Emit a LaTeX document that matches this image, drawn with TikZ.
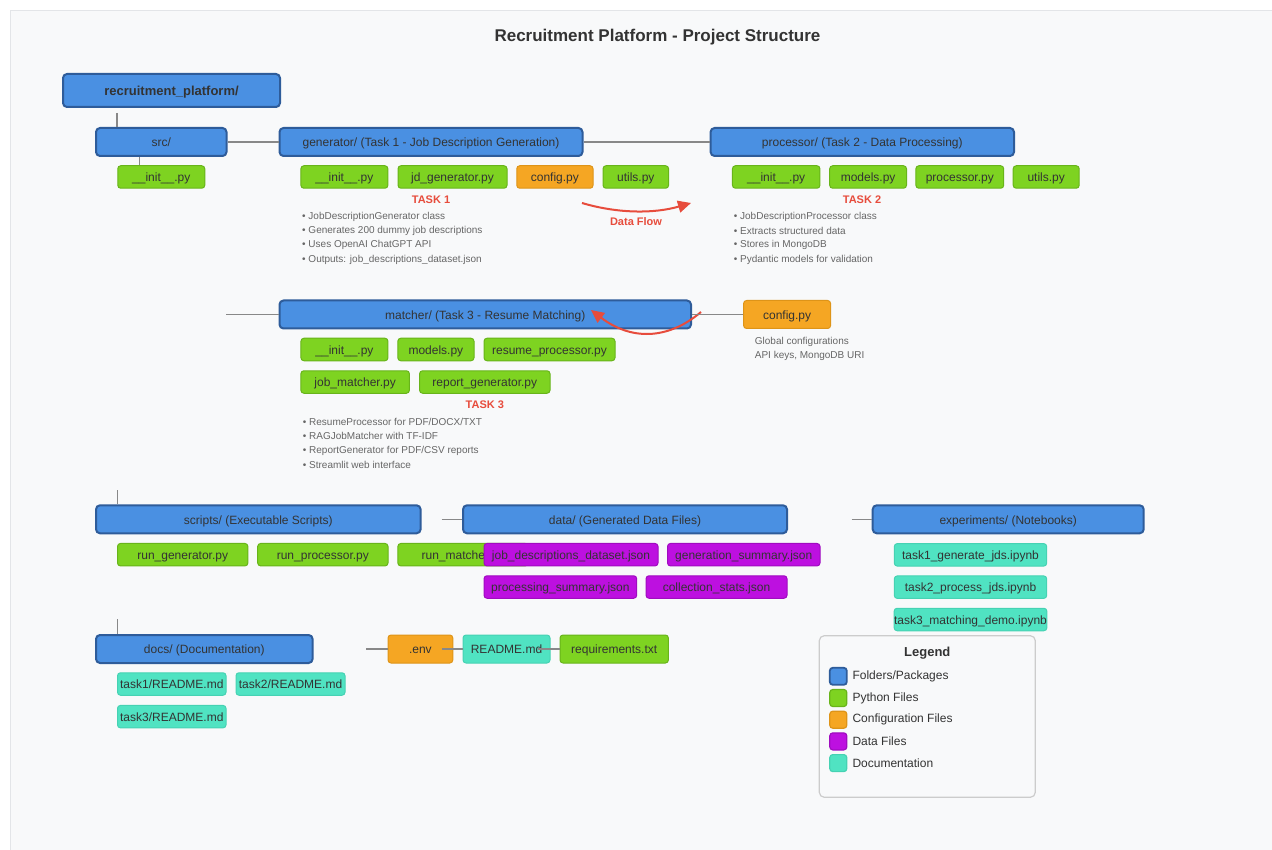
\documentclass[tikz,border=0pt]{standalone}
\usepackage{fontspec}
\setmainfont{Liberation Sans}
\usetikzlibrary{calc,arrows.meta}

\definecolor{folderfill}{HTML}{4A90E2}
\definecolor{folderdraw}{HTML}{2E5C9A}
\definecolor{pyfill}{HTML}{7ED321}
\definecolor{pydraw}{HTML}{68B41A}
\definecolor{cfgfill}{HTML}{F5A623}
\definecolor{cfgdraw}{HTML}{DE9418}
\definecolor{datafill}{HTML}{BD10E0}
\definecolor{datadraw}{HTML}{A00CC0}
\definecolor{docfill}{HTML}{50E3C2}
\definecolor{docdraw}{HTML}{46D2B3}
\definecolor{panel}{HTML}{F8F9FA}
\definecolor{panelline}{HTML}{E3E5E8}
\definecolor{ink}{HTML}{333333}
\definecolor{note}{HTML}{666666}
\definecolor{accent}{HTML}{E74C3C}
\definecolor{wire}{HTML}{888888}
\definecolor{legline}{HTML}{CCCCCC}

\newcommand{\setpx}[1]{\fontsize{#1}{#1}\selectfont}

\tikzset{
  box/.style={rectangle, inner sep=0pt, text=ink, font=\setpx{12},
              text height=9.6pt, text depth=0pt},
  folder/.style={box, fill=folderfill, draw=folderdraw, line width=2pt,
                 rounded corners=4pt, minimum height=28pt},
  filebox/.style={box, line width=1pt, rounded corners=3pt, minimum height=22.5pt},
  pyfile/.style={filebox, fill=pyfill, draw=pydraw},
  cfgfile/.style={filebox, fill=cfgfill, draw=cfgdraw},
  datafile/.style={filebox, fill=datafill, draw=datadraw},
  docfile/.style={filebox, fill=docfill, draw=docdraw},
  tasklabel/.style={text=accent, font=\setpx{11}\bfseries, inner sep=0pt},
  bullet/.style={text=note, font=\setpx{10}, inner sep=0pt, anchor=west},
  conn/.style={draw=wire, line width=1.5pt},
  flow/.style={draw=accent, line width=2pt, -{Triangle[length=13pt,width=12pt]}},
  legsw/.style={rectangle, minimum size=17pt, inner sep=0pt, rounded corners=3pt, line width=1.2pt},
  legtext/.style={text=ink, font=\setpx{12}, inner sep=0pt, anchor=west},
}

\begin{document}
\begin{tikzpicture}[x=1pt, y=-1pt]
\useasboundingbox (0,0) rectangle (1272,850);
% page panel
\fill[panel] (10,10) rectangle (1300,880);
\draw[panelline, line width=0.8pt] (10,880) -- (10,10) -- (1300,10);

% title
\node[text=ink, font=\setpx{17}\bfseries, inner sep=0pt] (title) at (657.5,37.5) {Recruitment Platform - Project Structure};

% root and first-level packages
\node[folder, minimum width=217pt, minimum height=33pt, font=\setpx{13}\bfseries,
      text height=10.5pt] (root) at (171.5,90.5) {recruitment\_platform/};
\node[folder, minimum width=130.5pt] (src) at (161.25,142) {src/};
\node[folder, minimum width=303pt] (gen) at (431,142) {generator/ (Task 1 - Job Description Generation)};
\node[folder, minimum width=303.4pt] (proc) at (862.3,142) {processor/ (Task 2 - Data Processing)};

% src files
\node[pyfile, minimum width=87pt] (srcinit) at (161.25,177) {\_\_init\_\_.py};

% generator files
\node[pyfile, minimum width=87pt] (geninit) at (344.4,177) {\_\_init\_\_.py};
\node[pyfile, minimum width=109pt] (jdgen) at (452.5,177) {jd\_generator.py};
\node[cfgfile, minimum width=76.3pt] (gencfg) at (554.9,177) {config.py};
\node[pyfile, minimum width=65.6pt] (genutils) at (635.8,177) {utils.py};

\node[tasklabel] (task1) at (431,200) {TASK 1};
\node[bullet] (g1) at (302,216.7) {• JobDescriptionGenerator class};
\node[bullet] (g2) at (302,230.7) {• Generates 200 dummy job descriptions};
\node[bullet] (g3) at (302,244.7) {• Uses OpenAI ChatGPT API};
\node[bullet] (g4) at (302,259.7) {• Outputs: job\_descriptions\_dataset.json};

% processor files
\node[pyfile, minimum width=87.5pt] (procinit) at (776.2,177) {\_\_init\_\_.py};
\node[pyfile, minimum width=76.8pt] (procmodels) at (868.1,177) {models.py};
\node[pyfile, minimum width=87.8pt] (procproc) at (959.8,177) {processor.py};
\node[pyfile, minimum width=66pt] (procutils) at (1046.2,177) {utils.py};

\node[tasklabel] (task2) at (862,200) {TASK 2};
\node[bullet] (p1) at (733.7,216.7) {• JobDescriptionProcessor class};
\node[bullet] (p2) at (733.7,230.7) {• Extracts structured data};
\node[bullet] (p3) at (733.7,244.7) {• Stores in MongoDB};
\node[bullet] (p4) at (733.7,259.7) {• Pydantic models for validation};

% data flow between tasks 1 and 2
\coordinate (fa) at (582,203);
\coordinate (fb) at (691,203);
\draw[flow] (fa) .. controls (618,213.7) and (654.3,213.7) .. (fb);
\node[tasklabel] (flowlabel) at (636,221.7) {Data Flow};

% matcher package
\node[folder, minimum width=411.5pt] (matcher) at (485.25,314.5) {matcher/ (Task 3 - Resume Matching)};
\node[cfgfile, minimum width=87pt, minimum height=28pt] (mcfg) at (787.1,314.5) {config.py};
\node[bullet] (c1) at (754.7,341.7) {Global configurations};
\node[bullet] (c2) at (754.7,356) {API keys, MongoDB URI};

\node[pyfile, minimum width=87pt] (minit) at (344.45,349.5) {\_\_init\_\_.py};
\node[pyfile, minimum width=76.2pt] (mmodels) at (435.9,349.5) {models.py};
\node[pyfile, minimum width=131pt] (mresume) at (549.5,349.5) {resume\_processor.py};
\node[pyfile, minimum width=108.5pt] (mjob) at (355.15,382) {job\_matcher.py};
\node[pyfile, minimum width=130.4pt] (mreport) at (484.8,382) {report\_generator.py};

\node[tasklabel] (task3) at (484.8,405) {TASK 3};
\node[bullet] (m1) at (302.7,421.7) {• ResumeProcessor for PDF/DOCX/TXT};
\node[bullet] (m2) at (302.7,436.3) {• RAGJobMatcher with TF-IDF};
\node[bullet] (m3) at (302.7,450.7) {• ReportGenerator for PDF/CSV reports};
\node[bullet] (m4) at (302.7,464.7) {• Streamlit web interface};

% config feeding the matcher
\coordinate (fc) at (701,312);
\coordinate (fd) at (591,310);
\draw[flow] (fc) .. controls (667,340.7) and (630.3,340) .. (fd);

% second row of packages
\node[folder, minimum width=324.6pt] (scripts) at (258.3,519.3) {scripts/ (Executable Scripts)};
\node[folder, minimum width=324pt] (data) at (625,519.3) {data/ (Generated Data Files)};
\node[folder, minimum width=271pt] (exper) at (1008.2,519.3) {experiments/ (Notebooks)};

\node[pyfile, minimum width=130.4pt] (rgen) at (182.7,554.7) {run\_generator.py};
\node[pyfile, minimum width=130.3pt] (rproc) at (322.85,554.7) {run\_processor.py};
\node[pyfile, minimum width=130.3pt] (rmatch) at (463,554.7) {run\_matcher.py};

\node[datafile, minimum width=174pt] (djob) at (571,554.7) {job\_descriptions\_dataset.json};
\node[datafile, minimum width=152.5pt] (dgen) at (743.75,554.7) {generation\_summary.json};
\node[datafile, minimum width=152.7pt] (dproc) at (560.35,587) {processing\_summary.json};
\node[datafile, minimum width=141pt] (dcoll) at (716.5,587) {collection\_stats.json};

\node[docfile, minimum width=152.4pt] (e1) at (970.5,554.85) {task1\_generate\_jds.ipynb};
\node[docfile, minimum width=152.4pt] (e2) at (970.5,587.15) {task2\_process\_jds.ipynb};
\node[docfile, minimum width=152.4pt] (e3) at (970.5,619.5) {task3\_matching\_demo.ipynb};

% docs and top-level files
\node[folder, minimum width=216.6pt] (docs) at (204.3,649) {docs/ (Documentation)};
\node[cfgfile, minimum width=64.8pt, minimum height=28pt] (env) at (420.4,649) {.env};
\node[docfile, minimum width=87pt, minimum height=28pt] (readme) at (506.5,649) {README.md};
\node[pyfile, minimum width=108.4pt, minimum height=28pt] (req) at (614.2,649) {requirements.txt};

\node[docfile, minimum width=108.5pt] (t1) at (171.75,684) {task1/README.md};
\node[docfile, minimum width=109pt] (t2) at (290.5,684) {task2/README.md};
\node[docfile, minimum width=108.5pt] (t3) at (171.75,716.65) {task3/README.md};

% tree connectors
\draw[conn] ($(root.south west)+(55,5)$) -- ($(src.north west)+(22,0)$);
\coordinate (srcjoin) at ($(srcinit.north west)+(22,0)$);
\draw[conn] (srcjoin) -- (srcjoin |- src.south);
\draw[conn] (src.east) -- (gen.west);
\draw[conn] (gen.east) -- (proc.west);
\coordinate (mstub) at (226,314.5);
\draw[conn] (mstub) -- (matcher.west);
\draw[conn] (matcher.east) -- (mcfg.west);
\coordinate (sstub) at (117.5,490);
\draw[conn] (sstub) -- (sstub |- scripts.north);
\coordinate (dstub) at (441.6,519.3);
\draw[conn] (dstub) -- (data.west);
\coordinate (estub) at (851.7,519.3);
\draw[conn] (estub) -- (exper.west);
\coordinate (ostub) at (117.5,619.3);
\draw[conn] (ostub) -- (ostub |- docs.north);
\coordinate (envstub) at (366,649);
\draw[conn] (envstub) -- (env.west);
\draw[conn] ($(env.east)+(-11,0)$) -- (readme.west);
\draw[conn] ($(readme.east)+(-12.5,0)$) -- (req.west);

% legend
\node[draw=legline, fill=panel, line width=1.2pt, rounded corners=5pt, minimum width=216pt,
      minimum height=161.6pt, inner sep=0pt] (legend) at (927.3,716.5) {};
\node[text=ink, font=\setpx{13}\bfseries, inner sep=0pt] (legtitle) at (927.3,653.3) {Legend};
\node[legsw, fill=folderfill, draw=folderdraw, line width=1.8pt] (lg1) at (838.3,676.3) {};
\node[legtext] (lt1) at (852.3,676.3) {Folders/Packages};
\node[legsw, fill=pyfill, draw=pydraw] (lg2) at (838.3,698) {};
\node[legtext] (lt2) at (852.3,698) {Python Files};
\node[legsw, fill=cfgfill, draw=cfgdraw] (lg3) at (838.3,719.7) {};
\node[legtext] (lt3) at (852.3,719.7) {Configuration Files};
\node[legsw, fill=datafill, draw=datadraw] (lg4) at (838.3,741.4) {};
\node[legtext] (lt4) at (852.3,741.4) {Data Files};
\node[legsw, fill=docfill, draw=docdraw] (lg5) at (838.3,763.1) {};
\node[legtext] (lt5) at (852.3,763.1) {Documentation};
\end{tikzpicture}
\end{document}
